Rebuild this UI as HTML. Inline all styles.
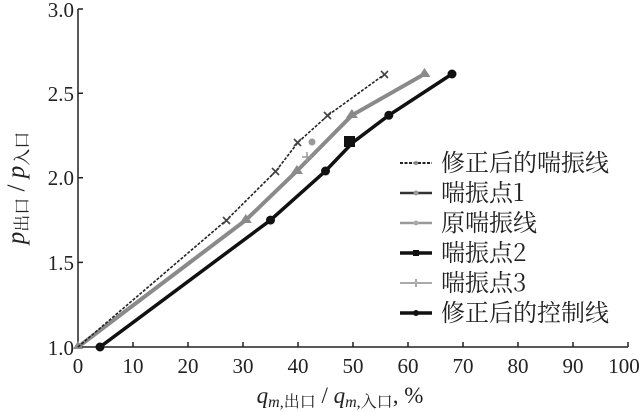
<!DOCTYPE html>
<html><head><meta charset="utf-8"><style>body{margin:0;background:#fff}svg{display:block}</style></head><body>
<svg width="644" height="412" viewBox="0 0 644 412" xmlns="http://www.w3.org/2000/svg" font-family="'Liberation Serif','Noto Serif CJK SC',serif">
<rect width="644" height="412" fill="#fff"/>
<g stroke="#222" stroke-width="1.5" fill="none">
<path d="M78,9 V347 H628"/>
<path d="M133,347v-5M188,347v-5M243,347v-5M298,347v-5M353,347v-5M408,347v-5M463,347v-5M518,347v-5M573,347v-5M628,347v-5"/>
<path d="M78,262.4h5M78,177.8h5M78,93.2h5M78,9h5"/>
</g>
<g font-size="21" fill="#222" text-anchor="end">
<text x="74" y="355">1.0</text><text x="74" y="270">1.5</text><text x="74" y="185">2.0</text><text x="74" y="101">2.5</text><text x="74" y="17">3.0</text>
</g>
<g font-size="21" fill="#222" text-anchor="middle">
<text x="78" y="373">0</text><text x="133" y="373">10</text><text x="188" y="373">20</text><text x="243" y="373">30</text><text x="298" y="373">40</text><text x="353" y="373">50</text><text x="408" y="373">60</text><text x="463" y="373">70</text><text x="518" y="373">80</text><text x="573" y="373">90</text><text x="624" y="373">100</text>
</g>
<text x="340" y="403" font-size="23" fill="#222" text-anchor="middle"><tspan font-style="italic">q</tspan><tspan font-size="16" dy="4"><tspan font-style="italic">m</tspan>,出口</tspan><tspan dy="-4"> / </tspan><tspan font-style="italic">q</tspan><tspan font-size="16" dy="4"><tspan font-style="italic">m</tspan>,入口</tspan><tspan dy="-4">, %</tspan></text>
<text transform="translate(24,188) rotate(-90)" font-size="25" fill="#222" text-anchor="middle"><tspan font-style="italic">p</tspan><tspan font-size="17" dy="4">出口</tspan><tspan dy="-4"> / </tspan><tspan font-style="italic">p</tspan><tspan font-size="17" dy="4">入口</tspan></text>
<polyline points="78,347 245.8,220.1 296.9,171 351.9,115.3 424.5,74" fill="none" stroke="#8a8a8a" stroke-width="4"/>
<g fill="#8a8a8a"><path d="M78,341l5,8h-10z"/><path d="M245.8,214l6,9h-12z"/><path d="M296.9,165l6,9h-12z"/><path d="M351.9,109l6,9h-12z"/><path d="M424.5,68l6,9h-12z"/></g>
<polyline points="100,347 270.5,220.1 325.5,171 353,142.3 388.8,115.3 452,74" fill="none" stroke="#111" stroke-width="3.5"/>
<g fill="#111"><circle cx="100" cy="347" r="4.5"/><circle cx="270.5" cy="220.1" r="4.5"/><circle cx="325.5" cy="171" r="4.5"/><circle cx="388.8" cy="115.3" r="4.5"/><circle cx="452" cy="74" r="4.5"/></g>
<rect x="344" y="136" width="11" height="11" fill="#111"/>
<polyline points="78,347 226.5,220.1 276,171 298,142.3 328,115.3 385,74" fill="none" stroke="#222" stroke-width="1.6" stroke-dasharray="3,1.5"/>
<g stroke="#444" stroke-width="1.6"><path d="M223,217l7,7M230,217l-7,7M272,168l7,7M279,168l-7,7M294,139l7,7M301,139l-7,7M324,112l7,7M331,112l-7,7M381,71l7,7M388,71l-7,7"/></g>
<circle cx="312" cy="142" r="3.5" fill="#999"/>
<path d="M307,152v10M302,157h10" stroke="#999" stroke-width="1.5"/>
<g stroke-width="2">
<line x1="400" y1="163" x2="432" y2="163" stroke="#222" stroke-dasharray="3,1.5"/><circle cx="416" cy="163" r="2" fill="#888"/>
<line x1="400" y1="193" x2="432" y2="193" stroke="#333" stroke-width="2.5"/><circle cx="416" cy="193" r="2.5" fill="#999"/>
<line x1="400" y1="223" x2="432" y2="223" stroke="#999" stroke-width="2.5"/><circle cx="416" cy="223" r="2.5" fill="#aaa"/>
<line x1="400" y1="253" x2="432" y2="253" stroke="#111" stroke-width="3.5"/><rect x="413" y="250" width="6" height="6" fill="#111"/>
<line x1="400" y1="283" x2="432" y2="283" stroke="#aaa" stroke-width="2"/><path d="M416,279v8" stroke="#aaa"/>
<line x1="400" y1="313" x2="432" y2="313" stroke="#111" stroke-width="3.5"/><circle cx="416" cy="313" r="3" fill="#111"/>
</g>
<g font-size="24" fill="#222" font-family="'Noto Serif CJK SC','Liberation Serif',serif">
<text x="441" y="171">修正后的喘振线</text>
<text x="441" y="201">喘振点1</text>
<text x="441" y="231">原喘振线</text>
<text x="441" y="261">喘振点2</text>
<text x="441" y="291">喘振点3</text>
<text x="441" y="321">修正后的控制线</text>
</g>
</svg>
</body></html>
